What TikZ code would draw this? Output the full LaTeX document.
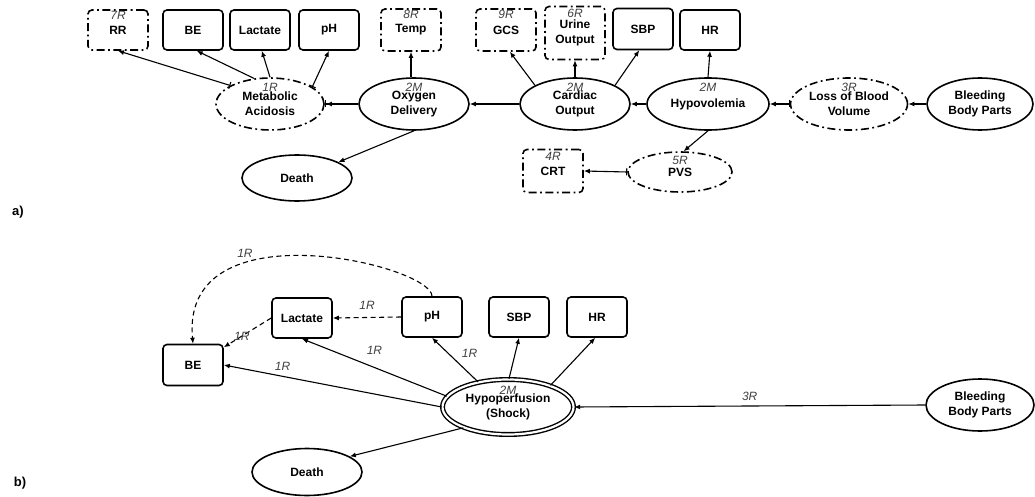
\documentclass[tikz,border=0pt]{standalone}
\usepackage{fontspec}
\setmainfont{Liberation Sans}
\usetikzlibrary{arrows.meta,shapes.geometric}

\newcommand{\dgfont}{\fontsize{12}{15}\selectfont\bfseries}
\newcommand{\tagfont}{\fontsize{12}{14}\selectfont\itshape}

\begin{document}
\begin{tikzpicture}[x=1pt, y=-1pt,
    >={Latex[length=6pt,width=5pt]},
    box/.style={draw, line width=1.6pt, rounded corners=4pt, minimum width=60pt,
      minimum height=40pt, inner sep=1pt, align=center, font=\dgfont},
    oval/.style={draw, ellipse, line width=1.6pt, minimum width=110pt,
      minimum height=52pt, inner sep=1pt, align=center, font=\dgfont},
    dashdot/.style={dash pattern=on 8pt off 3.5pt on 1.8pt off 3.5pt},
    tag/.style={font=\tagfont, text=black!75, anchor=north, inner sep=0pt, yshift=-2pt},
    elbl/.style={font=\tagfont, text=black!75, inner sep=3pt},
    link/.style={->, line width=1.1pt},
    barlink/.style={{Bar[width=7pt]}->, line width=1.1pt},
    dlink/.style={->, line width=1.1pt, dash pattern=on 5pt off 3.5pt},
  ]
    \useasboundingbox (0,0) rectangle (1035,497);

    % a) top row of measurements
    \node[box, dashdot, label={[tag]north:7R}]                     (rr)    at (118,30) {RR};
    \node[box]                                                   (be)    at (193,30) {BE};
    \node[box]                                                   (lac)   at (260,30) {Lactate};
    \node[box]                                                   (ph)    at (329,30) {pH};
    \node[box, dashdot, minimum height=42pt, label={[tag]north:8R}] (temp)  at (411,30) {Temp};
    \node[box, dashdot, minimum height=42pt, label={[tag]north:9R}] (gcs)   at (506,30) {GCS};
    \node[box, dashdot, minimum height=53pt, label={[tag,yshift=-1pt]north:6R}] (urine) at (575,33) {Urine\\Output};
    \node[box, minimum height=41pt]                              (sbp)   at (643,29) {SBP};
    \node[box]                                                   (hr)    at (710,30) {HR};

    % a) middle chain of states
    \node[oval, dashdot, minimum width=108pt, label={[tag,yshift=-4pt]north:1R}] (meta) at (270,104) {Metabolic\\Acidosis};
    \node[oval, label={[tag,yshift=-4pt]north:2M}]                 (oxy)   at (414,104) {Oxygen\\Delivery};
    \node[oval, label={[tag,yshift=-4pt]north:2M}]                 (card)  at (575,104) {Cardiac\\Output};
    \node[oval, minimum width=122pt, label={[tag,yshift=-4pt]north:2M}] (hypo) at (708,104) {Hypovolemia};
    \node[oval, dashdot, minimum width=117pt, label={[tag,yshift=-4pt]north:3R}] (loss) at (849,104) {Loss of Blood\\Volume};
    \node[oval, minimum width=106pt]                               (bleed) at (980,104) {Bleeding\\Body Parts};

    % a) bottom row
    \node[oval, minimum height=46pt]                               (death) at (297,178) {Death};
    \node[box, dashdot, minimum height=43pt, label={[tag,yshift=-1pt]north:4R}] (crt) at (553,171) {CRT};
    \node[oval, dashdot, minimum width=104pt, minimum height=40pt, label={[tag,yshift=-3pt]north:5R}] (pvs) at (680,172) {PVS};

    \node[font=\fontsize{13}{15}\selectfont\bfseries] (la) at (18,212) {a)};

    \draw[barlink] (meta.155) -- (rr.south);
    \draw[link]    (meta.122) -- (be.-80);
    \draw[link]    (meta.north) -- (lac.-85);
    \draw[barlink] (meta.22) -- (ph.south);
    \draw[link, -{Latex[length=6pt,width=5pt]Bar[width=7pt]}] (oxy.west) -- (meta.east);
    \draw[link]    (temp.south |- oxy.north) -- (temp.south);
    \draw[link]    (oxy.south) -- (death.21);
    \draw[link]    (card.west) -- (oxy.east);
    \draw[link]    (card.155) -- (gcs.-80);
    \draw[link]    (card.north) -- (urine.south);
    \draw[link]    (card.25) -- (sbp.-100);
    \draw[link]    (hypo.west) -- (card.east);
    \draw[link]    (hypo.north) -- (hr.south);
    \draw[link]    (hypo.south) -- (pvs.80);
    \draw[barlink] (pvs.west) -- (crt.east);
    \draw[barlink] (loss.west) -- (hypo.east);
    \draw[link]    (bleed.west) -- (loss.east);

    % b) reduced model
    \node[box, minimum height=41pt] (be2)  at (193,365) {BE};
    \node[box]                      (lac2) at (302,318) {Lactate};
    \node[box]                      (ph2)  at (432,317) {pH};
    \node[box]                      (sbp2) at (519,317) {SBP};
    \node[box]                      (hr2)  at (597,317) {HR};
    \node[oval, line width=1.4pt, double, double distance=2.2pt, minimum width=131pt, minimum height=55pt,
          label={[tag,yshift=-5pt]north:2M}] (shock) at (508,407) {Hypoperfusion\\(Shock)};
    \node[oval, minimum width=108pt]                  (bleed2) at (980,405) {Bleeding\\Body Parts};
    \node[oval, minimum height=47pt]                  (death2) at (307,472) {Death};

    \node[font=\fontsize{13}{15}\selectfont\bfseries] (lb) at (20,483) {b)};

    \draw[dlink] (ph2.north) .. controls (432,265) and (180,205) .. (be2.north)
        node[elbl, pos=.68, above=3pt] {1R};
    \draw[dlink] (ph2.west) -- (lac2.east) node[elbl, midway, above=4pt] {1R};
    \draw[dlink] (lac2.west) -- (be2.30) node[elbl, pos=.62, inner sep=0pt] {1R};
    \draw[link] (shock.west) -- (be2.east) node[elbl, pos=.73, above=2pt] {1R};
    \draw[link] (shock.170) -- (lac2.south) node[elbl, pos=.5, above=9pt] {1R};
    \draw[link] (shock.140) -- (ph2.south) node[elbl, pos=.45, above right=1pt] {1R};
    \draw[link] (shock.88) -- (sbp2.south);
    \draw[link] (shock.27) -- (hr2.-95);
    \draw[link] (shock.205) -- (death2.20);
    \draw[link] (bleed2.west) -- (shock.east) node[elbl, midway, above=2pt] {3R};
\end{tikzpicture}
\end{document}
